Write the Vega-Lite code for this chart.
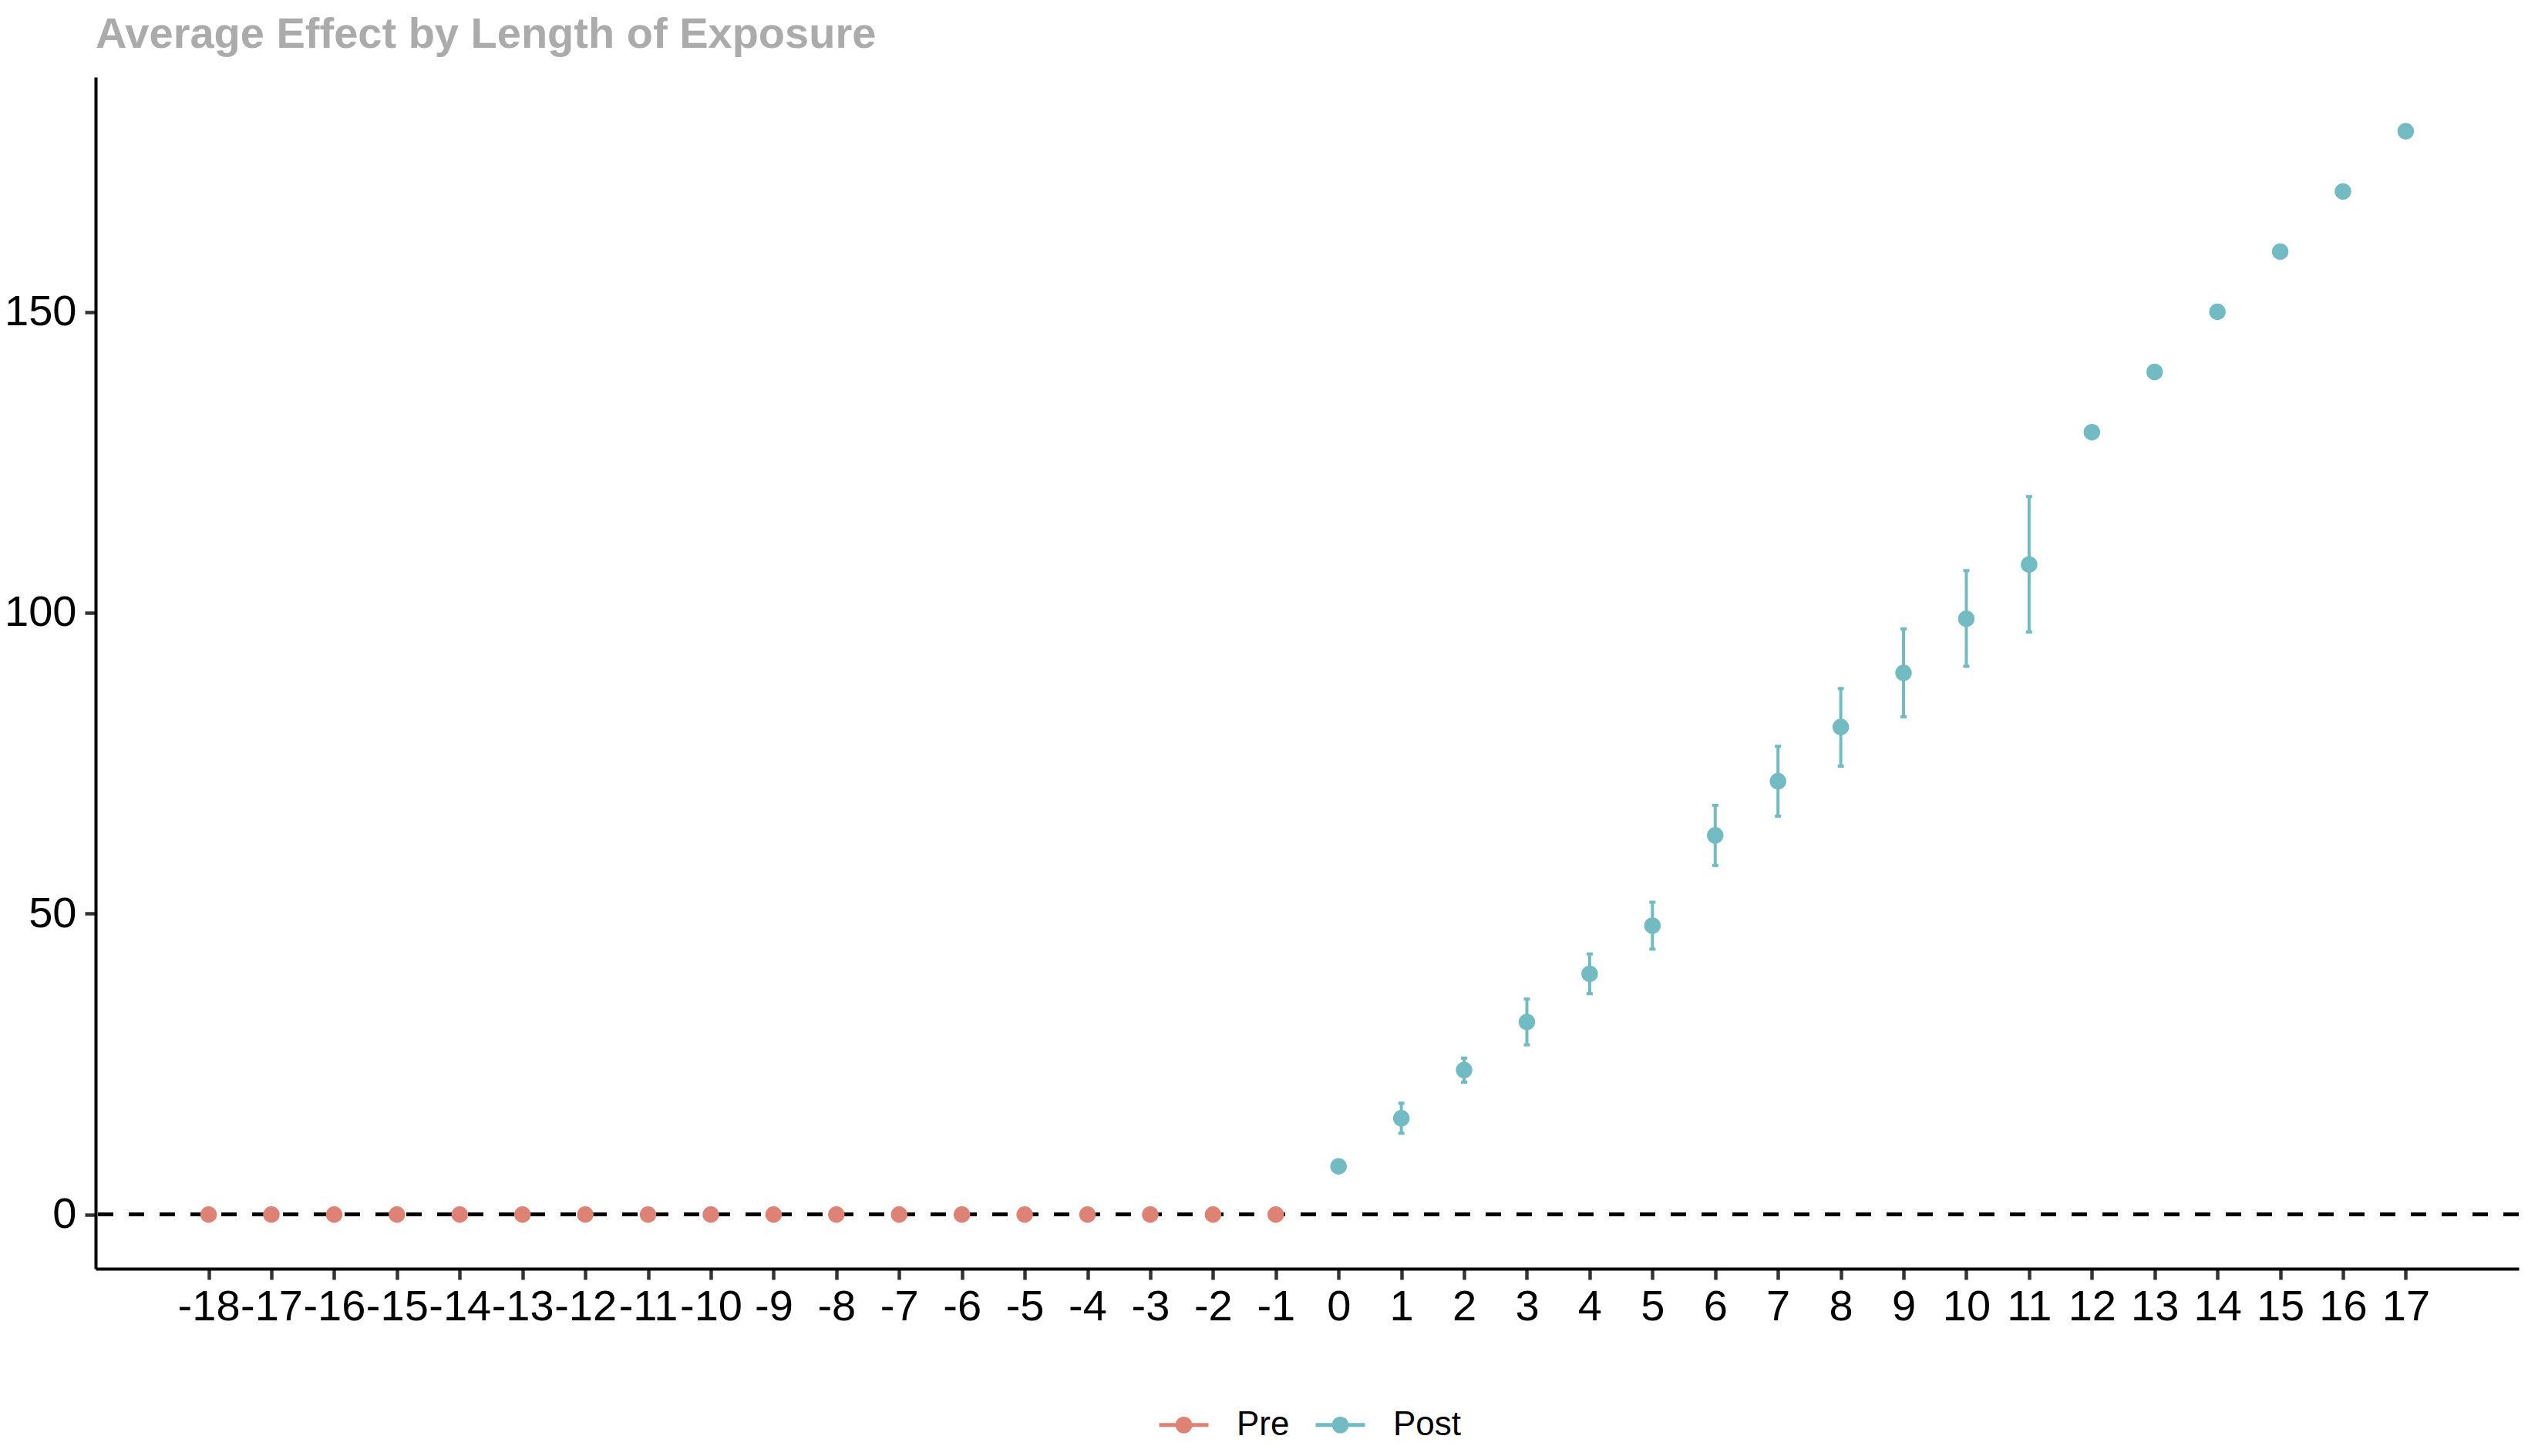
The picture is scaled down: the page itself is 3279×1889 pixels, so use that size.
{
  "$schema": "https://vega.github.io/schema/vega-lite/v6.json",
  "width": 3143,
  "height": 1546,
  "autosize": {"type": "none"},
  "padding": {"left": 124, "top": 100, "right": 12, "bottom": 243},
  "background": "white",
  "title": {
    "text": "Average Effect by Length of Exposure",
    "anchor": "start",
    "frame": "group",
    "font": "Liberation Sans",
    "fontSize": 56,
    "fontWeight": "bold",
    "color": "#ABABAB",
    "baseline": "alphabetic",
    "offset": -18
  },
  "data": {
    "values": [
      {"t": -18, "period": "Pre", "est": 0, "lo": null, "hi": null},
      {"t": -17, "period": "Pre", "est": 0, "lo": null, "hi": null},
      {"t": -16, "period": "Pre", "est": 0, "lo": null, "hi": null},
      {"t": -15, "period": "Pre", "est": 0, "lo": null, "hi": null},
      {"t": -14, "period": "Pre", "est": 0, "lo": null, "hi": null},
      {"t": -13, "period": "Pre", "est": 0, "lo": null, "hi": null},
      {"t": -12, "period": "Pre", "est": 0, "lo": null, "hi": null},
      {"t": -11, "period": "Pre", "est": 0, "lo": null, "hi": null},
      {"t": -10, "period": "Pre", "est": 0, "lo": null, "hi": null},
      {"t": -9, "period": "Pre", "est": 0, "lo": null, "hi": null},
      {"t": -8, "period": "Pre", "est": 0, "lo": null, "hi": null},
      {"t": -7, "period": "Pre", "est": 0, "lo": null, "hi": null},
      {"t": -6, "period": "Pre", "est": 0, "lo": null, "hi": null},
      {"t": -5, "period": "Pre", "est": 0, "lo": null, "hi": null},
      {"t": -4, "period": "Pre", "est": 0, "lo": null, "hi": null},
      {"t": -3, "period": "Pre", "est": 0, "lo": null, "hi": null},
      {"t": -2, "period": "Pre", "est": 0, "lo": null, "hi": null},
      {"t": -1, "period": "Pre", "est": 0, "lo": null, "hi": null},
      {"t": 0, "period": "Post", "est": 8, "lo": null, "hi": null},
      {"t": 1, "period": "Post", "est": 16, "lo": 13.5, "hi": 18.5},
      {"t": 2, "period": "Post", "est": 24, "lo": 22, "hi": 26},
      {"t": 3, "period": "Post", "est": 32, "lo": 28.2, "hi": 35.8},
      {"t": 4, "period": "Post", "est": 40, "lo": 36.7, "hi": 43.3},
      {"t": 5, "period": "Post", "est": 48, "lo": 44.1, "hi": 51.9},
      {"t": 6, "period": "Post", "est": 63, "lo": 58, "hi": 68},
      {"t": 7, "period": "Post", "est": 72, "lo": 66.2, "hi": 77.8},
      {"t": 8, "period": "Post", "est": 81, "lo": 74.5, "hi": 87.4},
      {"t": 9, "period": "Post", "est": 90, "lo": 82.7, "hi": 97.3},
      {"t": 10, "period": "Post", "est": 99, "lo": 91.1, "hi": 107},
      {"t": 11, "period": "Post", "est": 108, "lo": 96.8, "hi": 119.3},
      {"t": 12, "period": "Post", "est": 130, "lo": null, "hi": null},
      {"t": 13, "period": "Post", "est": 140, "lo": null, "hi": null},
      {"t": 14, "period": "Post", "est": 150, "lo": null, "hi": null},
      {"t": 15, "period": "Post", "est": 160, "lo": null, "hi": null},
      {"t": 16, "period": "Post", "est": 170, "lo": null, "hi": null},
      {"t": 17, "period": "Post", "est": 180, "lo": null, "hi": null}
    ]
  },
  "layer": [
    {
      "mark": {"type": "rule", "color": "black", "strokeWidth": 4.5, "strokeDash": [20, 20]},
      "encoding": {"y": {"datum": 0, "type": "quantitative", "scale": {"domain": [-9, 189], "nice": false, "zero": false}}}
    },
    {
      "transform": [{"filter": "datum.lo != null"}],
      "layer": [
        {
          "mark": {"type": "rule", "strokeWidth": 4, "color": "#72BBC2"},
          "encoding": {
            "x": {"field": "t", "type": "quantitative"},
            "y": {"field": "lo", "type": "quantitative"},
            "y2": {"field": "hi"}
          }
        },
        {
          "mark": {"type": "tick", "orient": "horizontal", "size": 8, "thickness": 4, "opacity": 1, "color": "#72BBC2"},
          "encoding": {
            "x": {"field": "t", "type": "quantitative"},
            "y": {"field": "lo", "type": "quantitative"}
          }
        },
        {
          "mark": {"type": "tick", "orient": "horizontal", "size": 8, "thickness": 4, "opacity": 1, "color": "#72BBC2"},
          "encoding": {
            "x": {"field": "t", "type": "quantitative"},
            "y": {"field": "hi", "type": "quantitative"}
          }
        }
      ]
    },
    {
      "mark": {"type": "point", "filled": true, "shape": "circle", "size": 460, "opacity": 1},
      "encoding": {
        "x": {
          "field": "t",
          "type": "quantitative",
          "scale": {"domain": [-19.8, 18.8], "nice": false, "zero": false},
          "axis": {
            "title": null,
            "values": [-18, -17, -16, -15, -14, -13, -12, -11, -10, -9, -8, -7, -6, -5, -4, -3, -2, -1, 0, 1, 2, 3, 4, 5, 6, 7, 8, 9, 10, 11, 12, 13, 14, 15, 16, 17],
            "labelExpr": "'' + datum.value",
            "labelOverlap": false,
            "labelPadding": 8,
            "labelFlush": false
          }
        },
        "y": {
          "field": "est",
          "type": "quantitative",
          "axis": {
            "title": null,
            "values": [0, 50, 100, 150],
            "labelExpr": "'' + datum.value",
            "labelPadding": 11
          }
        },
        "color": {
          "field": "period",
          "type": "nominal",
          "scale": {"domain": ["Pre", "Post"], "range": ["#DE8276", "#72BBC2"]},
          "legend": {
            "title": null,
            "orient": "none",
            "direction": "horizontal",
            "legendX": 1377,
            "legendY": 1714,
            "symbolType": "M-1,0H1M-0.26,0A0.26,0.26,0,1,1,0.26,0A0.26,0.26,0,1,1,-0.26,0Z",
            "symbolSize": 4096,
            "symbolStrokeWidth": 5,
            "symbolOpacity": 1,
            "labelOffset": 34,
            "columnPadding": 23,
            "labelFont": "Liberation Sans",
            "labelFontSize": 44,
            "labelColor": "black",
            "encode": {
              "symbols": {
                "update": {
                  "stroke": {"scale": "color", "field": "value"},
                  "fill": {"scale": "color", "field": "value"},
                  "strokeWidth": {"value": 5},
                  "opacity": {"value": 1}
                }
              }
            }
          }
        }
      }
    }
  ],
  "config": {
    "view": {"stroke": null},
    "axis": {
      "grid": false,
      "domainColor": "black",
      "domainWidth": 4,
      "tickColor": "#333333",
      "tickWidth": 4.5,
      "tickSize": 14,
      "labelFont": "Liberation Sans",
      "labelFontSize": 56,
      "labelColor": "black"
    }
  }
}
